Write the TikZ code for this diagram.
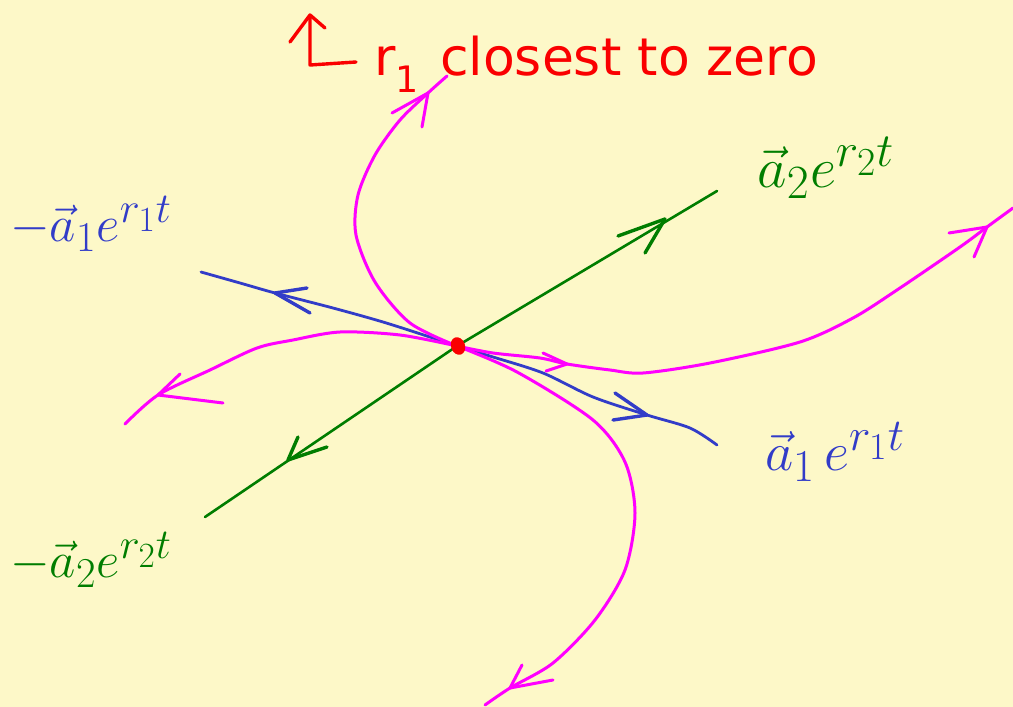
\documentclass[tikz,border=0pt]{standalone}
\usepackage{fontspec}
\setmainfont{DejaVu Sans}
\usepackage{graphicx}
\usepackage{tikz}

\definecolor{notepad}{RGB}{253,248,200}
\definecolor{inkred}{RGB}{250,0,0}
\definecolor{inkgreen}{RGB}{0,125,0}
\definecolor{inkblue}{RGB}{50,60,200}
\definecolor{inkmagenta}{RGB}{255,0,255}

\tikzset{
  traj/.style={inkmagenta, line width=3pt, line cap=round, line join=round},
  eigblue/.style={inkblue, line width=2.8pt, line cap=round, line join=round},
  eiggreen/.style={inkgreen, line width=2.6pt, line cap=round, line join=round},
  hand/.style={inner sep=0pt},
}

\begin{document}
\begin{tikzpicture}[x=1pt, y=-1pt]
    \fill[notepad] (0,0) rectangle (1013,707);
    \useasboundingbox (0,0) rectangle (1013,707);
    \coordinate (O) at (457,346);

    % green line: a2 direction
    \draw[eiggreen] (205,517) -- (O) -- (717,191);
    \draw[eiggreen, line width=3.4pt] (618,236) -- (665,219) -- (645,253);
    \draw[eiggreen, line width=3.4pt] (298,437) -- (288,460) -- (327,447);

    % blue line: a1 direction
    \draw[eigblue] plot[smooth] coordinates {(201,272) (240,283) (275,293) (333,308) (383,322) (433,338) (O) (493,357) (543,373) (593,397) (647,415) (690,428) (717,445)};
    \draw[eigblue, line width=3.4pt] (307,288) -- (275,293) -- (310,313);
    \draw[eigblue, line width=3.4pt] (615,393) -- (647,415) -- (613,420);

    % magenta trajectories
    \draw[traj] plot[smooth] coordinates {(O) (410,323) (375,282) (356,235) (358,195) (375,155) (400,120) (428,93) (447,76)};
    \draw[traj] (392,113) -- (428,93) -- (422,127);
    \draw[traj] plot[smooth] coordinates {(O) (400,335) (340,332) (293,340) (257,348) (210,370) (158,395) (125,424)};
    \draw[traj] (180,374) -- (158,395) -- (223,403);
    \draw[traj] plot[smooth] coordinates {(O) (493,353) (540,358) (567,364) (610,370) (643,373) (710,363) (800,342) (853,318) (897,290) (960,247) (987,227) (1013,208)};
    \draw[traj] (543,353) -- (567,364) -- (546,371);
    \draw[traj] (949,233) -- (987,227) -- (974,257);
    \draw[traj] plot[smooth] coordinates {(O) (517,372) (593,420) (625,462) (635,513) (625,570) (595,620) (553,663) (510,688) (485,705)};
    \draw[traj] (522,665) -- (510,688) -- (553,680);

    % critical point
    \fill[inkred, rotate around={20:(458,346)}] (458,346) ellipse [x radius=7pt, y radius=9pt];

    % note at the top
    \draw[inkred, line width=3.4pt, line cap=round, line join=round] (290,42) -- (310,15) -- (325,28);
    \draw[inkred, line width=3.4pt, line cap=round, line join=round] (310,17) -- (310,65) -- (356,62);
    \node[hand, text=inkred, anchor=base west, font=\fontsize{52}{62}\selectfont] (note) at (374,75) {r\textsubscript{1}\hspace{0.4em}closest to zero};

    \node[hand, text=inkgreen] (a2pos) at (826,168) {\scalebox{2.3}{\Huge$\vec{a}_2 e^{r_2 t}$}};
    \node[hand, text=inkblue, anchor=west] (a1neg) at (10,224) {\scalebox{2.05}{\Huge$-\vec{a}_1 e^{r_1 t}$}};
    \node[hand, text=inkblue] (a1pos) at (835,452) {\scalebox{2.2}{\Huge$\vec{a}_1\, e^{r_1 t}$}};
    \node[hand, text=inkgreen, anchor=west] (a2neg) at (10,560) {\scalebox{2.05}{\Huge$-\vec{a}_2 e^{r_2 t}$}};
\end{tikzpicture}
\end{document}
